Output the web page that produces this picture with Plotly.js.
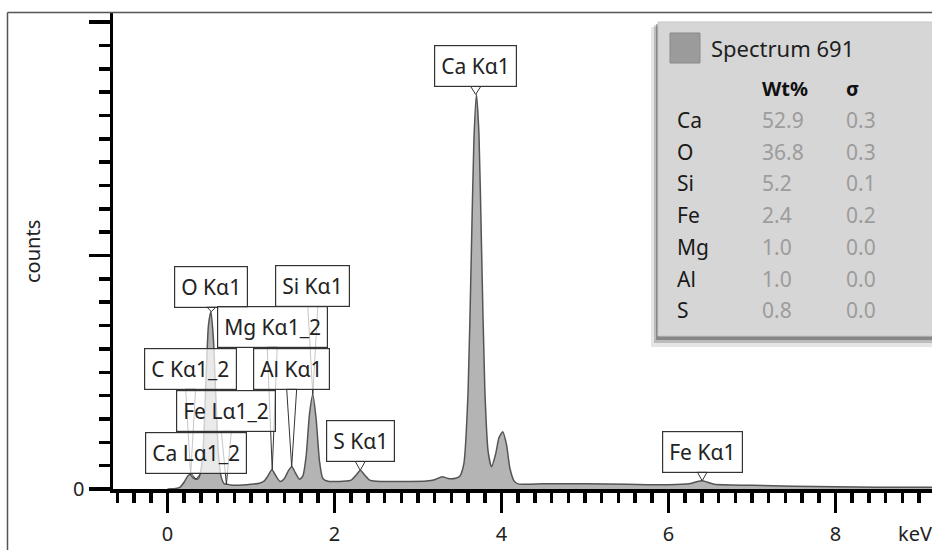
<!DOCTYPE html>
<html>
<head>
<meta charset="utf-8">
<script src="https://cdn.plot.ly/plotly-3.0.1.min.js"></script>
<style>
  html, body { margin: 0; padding: 0; background: #fff; }
  #chart { width: 932px; height: 550px; }
</style>
</head>
<body>
<div id="chart"></div>
<script>
// ---- Spectrum data (keV, counts in arbitrary units) ----
const energy = [
  0.00, 0.10, 0.15, 0.20, 0.24, 0.27, 0.30, 0.34, 0.37, 0.40, 0.43, 0.46, 0.49, 0.52, 0.55, 0.58, 0.61, 0.64, 0.68,
  0.72, 0.76, 0.80, 0.90, 1.00, 1.10, 1.16, 1.20, 1.25, 1.30, 1.35, 1.40, 1.45, 1.49, 1.53, 1.58, 1.62, 1.66, 1.70,
  1.74, 1.78, 1.82, 1.86, 1.92, 2.00, 2.10, 2.20, 2.26, 2.31, 2.36, 2.42, 2.50, 2.70, 2.90, 3.10, 3.20, 3.29, 3.36,
  3.45, 3.50, 3.55, 3.60, 3.64, 3.67, 3.70, 3.73, 3.76, 3.80, 3.84, 3.88, 3.93, 3.97, 4.015, 4.06, 4.10, 4.15, 4.20,
  4.50, 5.00, 5.50, 6.00, 6.25, 6.35, 6.40, 6.46, 6.55, 7.00, 7.50, 8.00, 8.50, 9.20
];
const counts = [
  0.00, 0.02, 0.08, 0.30, 0.55, 0.62, 0.50, 0.42, 0.45, 0.80, 1.90, 4.60, 7.00, 7.60, 6.40, 3.80, 1.50, 0.55, 0.22,
  0.20, 0.17, 0.16, 0.17, 0.20, 0.25, 0.35, 0.55, 0.82, 0.55, 0.32, 0.45, 0.80, 0.95, 0.70, 0.42, 0.55, 1.40, 3.20,
  4.05, 3.00, 1.20, 0.45, 0.33, 0.32, 0.33, 0.38, 0.60, 0.80, 0.60, 0.38, 0.33, 0.32, 0.32, 0.34, 0.40, 0.53, 0.45,
  0.46, 0.55, 1.10, 4.20, 10.30, 15.00, 16.90, 15.20, 10.50, 4.30, 1.60, 0.95, 1.50, 2.20, 2.45, 1.90, 0.90, 0.35, 0.22,
  0.22, 0.22, 0.20, 0.18, 0.22, 0.32, 0.35, 0.30, 0.20, 0.16, 0.12, 0.10, 0.08, 0.07
];

// ---- Peak labels ----
const labelNames  = ['Ca Kα1', 'O Kα1', 'Si Kα1', 'Mg Kα1_2', 'C Kα1_2', 'Al Kα1', 'Fe Lα1_2', 'Ca Lα1_2', 'S Kα1', 'Fe Kα1'];
const labelEnergy = [3.691, 0.525, 1.740, 1.254, 0.277, 1.487, 0.705, 0.341, 2.308, 6.404];
const labelPeak   = [16.9, 7.6, 4.05, 0.82, 0.60, 0.95, 0.20, 0.42, 0.80, 0.35];

// ---- Quantification table ----
const elements = ['Ca', 'O', 'Si', 'Fe', 'Mg', 'Al', 'S'];
const wtPct    = ['52.9', '36.8', '5.2', '2.4', '1.0', '1.0', '0.8'];
const sigmaVal = ['0.3', '0.3', '0.1', '0.2', '0.0', '0.0', '0.0'];
const spectrumName = 'Spectrum 691';

// ---- Axis ticks ----
const xTickVals = [0, 2, 4, 6, 8];
const xTickText = ['0', '2', '4', '6', '8'];
const yTickVals = [0, 10, 20];
const yTickText = ['0', '', ''];

// ---- Layout helpers (pixel -> paper) ----
const ML = 113, MT = 13, W = 932, H = 550, MB = 61, MR = 0;
const PW = W - ML - MR, PH = H - MT - MB;
const px = v => (v - ML) / PW;
const py = v => (H - MB - v) / PH;

const labelGap = [7, 4, 87, 122, 85, 77, 52, 5, 8, 8];

const FONT = 'Noto Sans, Open Sans, sans-serif';

const trace = {
  x: energy, y: counts, type: 'scatter', mode: 'lines',
  line: { color: '#555', width: 1.5, shape: 'spline', smoothing: 0.6 },
  fill: 'tozeroy', fillcolor: '#b4b4b4', hoverinfo: 'skip'
};

const shapes = [];
const annotations = [];

// outer frame
shapes.push({ type: 'line', xref: 'paper', yref: 'paper', x0: px(7.5), x1: px(940), y0: py(12.5), y1: py(12.5), line: { color: '#555', width: 1.5 } });
shapes.push({ type: 'line', xref: 'paper', yref: 'paper', x0: px(7.5), x1: px(7.5), y0: py(12.5), y1: py(560), line: { color: '#555', width: 1.5 } });

// pointer triangles + label boxes
labelNames.forEach((name, i) => {
  const g = labelGap[i];
  shapes.push({
    type: 'path', xref: 'x', yref: 'y', xsizemode: 'pixel', ysizemode: 'pixel',
    xanchor: labelEnergy[i], yanchor: labelPeak[i],
    path: `M -5 ${g + 1} L 0 0 L 5 ${g + 1} Z`,
    fillcolor: 'rgba(255,255,255,0.55)', line: { color: '#333', width: 1 }, layer: 'above'
  });
  annotations.push({
    x: labelEnergy[i], y: labelPeak[i], xref: 'x', yref: 'y',
    text: name, showarrow: false, xanchor: 'center', yanchor: 'bottom', yshift: g,
    font: { family: FONT, size: 21, color: '#222' },
    bgcolor: 'rgba(255,255,255,0.72)', bordercolor: '#333', borderwidth: 1.2, borderpad: 6
  });
});

// legend / quant panel
shapes.push({ type: 'rect', xref: 'paper', yref: 'paper', x0: px(651), x1: px(945), y0: py(347), y1: py(27), fillcolor: 'rgba(0,0,0,0.10)', line: { width: 0 }, layer: 'above' });
shapes.push({ type: 'rect', xref: 'paper', yref: 'paper', x0: px(654), x1: px(945), y0: py(343), y1: py(25), fillcolor: 'rgba(0,0,0,0.18)', line: { width: 0 }, layer: 'above' });
shapes.push({ type: 'rect', xref: 'paper', yref: 'paper', x0: px(656), x1: px(945), y0: py(340), y1: py(24), fillcolor: 'rgba(40,40,40,0.35)', line: { width: 0 }, layer: 'above' });
shapes.push({ type: 'rect', xref: 'paper', yref: 'paper', x0: px(658), x1: px(945), y0: py(336), y1: py(22), fillcolor: '#d6d6d6', line: { color: '#c6c6c6', width: 1 }, layer: 'above' });
shapes.push({ type: 'rect', xref: 'paper', yref: 'paper', x0: px(670), x1: px(700), y0: py(63), y1: py(33), fillcolor: '#9b9b9b', line: { color: '#8a8a8a', width: 1 }, layer: 'above' });

annotations.push({ xref: 'paper', yref: 'paper', x: px(709), y: py(48), xanchor: 'left', yanchor: 'middle', showarrow: false, text: spectrumName, font: { family: FONT, size: 22, color: '#1e1e1e' } });
annotations.push({ xref: 'paper', yref: 'paper', x: px(760), y: py(88), xanchor: 'left', yanchor: 'middle', showarrow: false, text: '<b>Wt%</b>', font: { family: FONT, size: 20, color: '#111' } });
annotations.push({ xref: 'paper', yref: 'paper', x: px(844), y: py(88), xanchor: 'left', yanchor: 'middle', showarrow: false, text: '<b>σ</b>', font: { family: FONT, size: 20, color: '#111' } });
elements.forEach((el, i) => {
  const yy = py(120 + 31.7 * i);
  annotations.push({ xref: 'paper', yref: 'paper', x: px(675), y: yy, xanchor: 'left', yanchor: 'middle', showarrow: false, text: el, font: { family: FONT, size: 21, color: '#1a1a1a' } });
  annotations.push({ xref: 'paper', yref: 'paper', x: px(760), y: yy, xanchor: 'left', yanchor: 'middle', showarrow: false, text: wtPct[i], font: { family: FONT, size: 21, color: '#9c9c9c' } });
  annotations.push({ xref: 'paper', yref: 'paper', x: px(844), y: yy, xanchor: 'left', yanchor: 'middle', showarrow: false, text: sigmaVal[i], font: { family: FONT, size: 21, color: '#9c9c9c' } });
});

// axis titles
annotations.push({ xref: 'paper', yref: 'paper', x: px(32), y: py(252), xanchor: 'center', yanchor: 'middle', showarrow: false, text: 'counts', textangle: -90, font: { family: FONT, size: 20, color: '#222' } });
annotations.push({ xref: 'paper', yref: 'paper', x: px(896), y: py(533), xanchor: 'left', yanchor: 'middle', showarrow: false, text: 'keV', font: { family: FONT, size: 20, color: '#222' } });

const layout = {
  width: W, height: H,
  margin: { l: ML, r: MR, t: MT, b: MB, pad: 0 },
  paper_bgcolor: '#fff', plot_bgcolor: '#fff',
  showlegend: false,
  font: { family: FONT, size: 21, color: '#222' },
  xaxis: {
    range: [-0.653, 9.156], showgrid: false, zeroline: false,
    showline: true, linecolor: '#000', linewidth: 3.5,
    ticks: 'outside', ticklen: 20, tickwidth: 3.5, tickcolor: '#000',
    tickmode: 'array', tickvals: xTickVals, ticktext: xTickText,
    tickfont: { family: FONT, size: 20, color: '#222' }, ticklabelstandoff: 4,
    minor: { tickmode: 'linear', tick0: 0, dtick: 0.2, ticks: 'outside', ticklen: 10, tickwidth: 3.5, tickcolor: '#000', showgrid: false },
    fixedrange: true
  },
  yaxis: {
    range: [0, 20.39], showgrid: false, zeroline: false,
    showline: true, linecolor: '#000', linewidth: 3.5,
    ticks: 'outside', ticklen: 21, tickwidth: 3.5, tickcolor: '#000',
    tickmode: 'array', tickvals: yTickVals, ticktext: yTickText,
    tickfont: { family: FONT, size: 20, color: '#222' },
    minor: { tickmode: 'linear', tick0: 0, dtick: 1, ticks: 'outside', ticklen: 11, tickwidth: 3.5, tickcolor: '#000', showgrid: false },
    fixedrange: true
  },
  shapes: shapes,
  annotations: annotations
};

Plotly.newPlot('chart', [trace], layout, { displayModeBar: false, staticPlot: true });
</script>
</body>
</html>
